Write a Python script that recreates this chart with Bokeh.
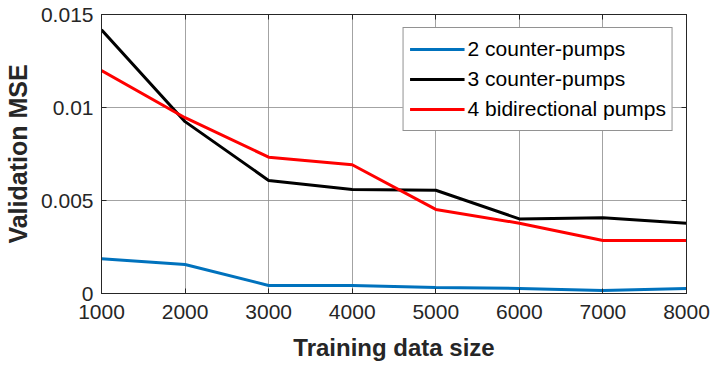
from bokeh.plotting import figure
from bokeh.models import Range1d, FixedTicker, LinearAxis, Legend, LegendItem
from bokeh.embed import file_html
from bokeh.resources import INLINE

# Training-set sizes and validation MSE for each pump configuration
train_size = [1000, 2000, 3000, 4000, 5000, 6000, 7000, 8000]
mse_2_counter = [0.00187, 0.00156, 0.00043, 0.00043, 0.00032, 0.00027, 0.00016, 0.00027]
mse_3_counter = [0.01418, 0.00924, 0.00608, 0.00559, 0.00555, 0.00401, 0.00407, 0.00378]
mse_4_bidir = [0.01199, 0.00945, 0.00733, 0.00692, 0.00452, 0.00378, 0.00285, 0.00285]

series_names = ["2 counter-pumps", "3 counter-pumps", "4 bidirectional pumps"]
series_colors = ["#0072BD", "#000000", "#FF0000"]

x_ticks = [1000, 2000, 3000, 4000, 5000, 6000, 7000, 8000]
y_ticks = [0, 0.005, 0.01, 0.015]
y_tick_labels = {0: "0", 0.005: "0.005", 0.01: "0.01", 0.015: "0.015"}

FONT = "Liberation Sans"
AX = "#262626"

p = figure(width=711, height=367, output_backend="svg", toolbar_location=None,
           x_range=Range1d(1000, 8000), y_range=Range1d(0, 0.015),
           min_border_left=100, min_border_right=25, min_border_top=14, min_border_bottom=74)

p.outline_line_color = AX
p.outline_line_width = 1
p.background_fill_color = "white"
p.border_fill_color = "white"

# Main axes
p.xaxis.ticker = FixedTicker(ticks=x_ticks)
p.yaxis.ticker = FixedTicker(ticks=y_ticks)
p.yaxis.major_label_overrides = y_tick_labels
for ax in (p.xaxis[0], p.yaxis[0]):
    ax.axis_line_color = AX
    ax.major_tick_in = 5
    ax.major_tick_out = 0
    ax.minor_tick_line_color = None
    ax.major_tick_line_color = AX
    ax.major_label_text_font = FONT
    ax.major_label_text_font_size = "21px"
    ax.major_label_text_color = AX
    ax.axis_label_text_font = FONT
    ax.axis_label_text_font_style = "bold"
    ax.axis_label_text_color = AX
p.xaxis.axis_label = "Training data size"
p.yaxis.axis_label = "Validation MSE"
p.xaxis.axis_label_text_font_size = "24px"
p.yaxis.axis_label_text_font_size = "25px"
p.xaxis.major_label_standoff = 11
p.yaxis.major_label_standoff = 8
p.xaxis.axis_label_standoff = 12
p.yaxis.axis_label_standoff = 6

# Box-style axes on top and right carrying only inward ticks
top_ax = LinearAxis(ticker=FixedTicker(ticks=x_ticks), major_tick_in=5, major_tick_out=0,
                    minor_tick_line_color=None, axis_line_color=AX, major_tick_line_color=AX,
                    major_label_overrides={t: "" for t in x_ticks},
                    major_label_text_font_size="8px", major_label_standoff=0)
right_ax = LinearAxis(ticker=FixedTicker(ticks=y_ticks), major_tick_in=5, major_tick_out=0,
                      minor_tick_line_color=None, axis_line_color=AX, major_tick_line_color=AX,
                      major_label_overrides={t: "" for t in y_ticks},
                      major_label_text_font_size="8px", major_label_standoff=0)
p.add_layout(top_ax, "above")
p.add_layout(right_ax, "right")

# Grid
p.xgrid.ticker = FixedTicker(ticks=x_ticks)
p.ygrid.ticker = FixedTicker(ticks=y_ticks)
for g in (p.xgrid[0], p.ygrid[0]):
    g.grid_line_color = "#8c8c8c"
    g.grid_line_alpha = 0.8
    g.grid_line_width = 1

renderers = []
for ys, color in zip([mse_2_counter, mse_3_counter, mse_4_bidir], series_colors):
    r = p.line(train_size, ys, line_color=color, line_width=3)
    renderers.append(r)

legend = Legend(items=[LegendItem(label=n, renderers=[r]) for n, r in zip(series_names, renderers)],
                location="top_right")
legend.margin = 13
legend.padding = 6
legend.spacing = 0
legend.glyph_width = 55
legend.glyph_height = 30
legend.label_standoff = 3
legend.label_text_font = FONT
legend.label_text_font_size = "21px"
legend.label_text_color = "#000000"
legend.border_line_color = AX
legend.border_line_width = 1
legend.background_fill_color = "white"
legend.background_fill_alpha = 1
p.add_layout(legend, "center")

open("out.html", "w").write(file_html(p, INLINE))
